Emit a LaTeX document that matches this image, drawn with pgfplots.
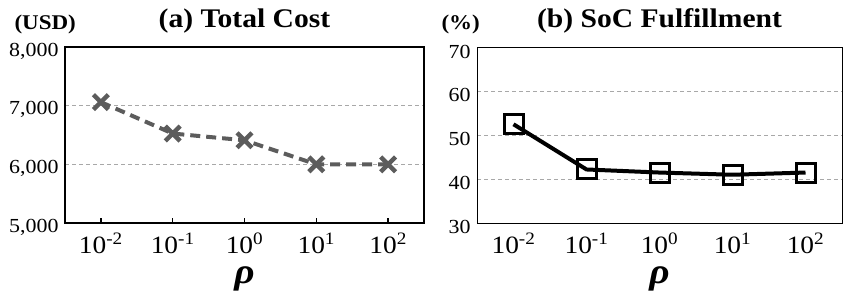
\documentclass[border=0pt]{standalone}
\usepackage{fontspec}
\setmainfont{Liberation Serif}[FakeStretch=1.1]
\usepackage{pgfplots}
\pgfplotsset{compat=1.18}
\definecolor{costgray}{HTML}{5C5C5C}
\definecolor{gridgray}{HTML}{A8A8A8}
\pgfplotsset{
  common/.style={
    scale only axis,
    xmin=-0.5, xmax=4.5,
    xtick={0,1,2,3,4},
    xticklabels={10\textsuperscript{-2},10\textsuperscript{-1},10\textsuperscript{0},10\textsuperscript{1},10\textsuperscript{2}},
    xticklabel style={font=\fontsize{25}{27}\selectfont, anchor=base, yshift=-30bp},
    yticklabel style={font=\fontsize{20}{22}\selectfont, anchor=east, yshift=-4bp, xshift=-3bp},
    /pgf/number format/.cd, 1000 sep={,}, assume math mode=true, /pgfplots/.cd,
    ymajorgrids,
    grid style={gridgray, dash pattern=on 4bp off 3bp, line width=0.8bp},
    title style={font=\bfseries\fontsize{27}{29}\selectfont, at={(0.5,1)}, anchor=base, yshift=14bp},
    xlabel style={font=\bfseries\itshape\fontsize{36}{38}\selectfont, at={(0.5,0)}, anchor=base, yshift=-60bp},
    xlabel={ρ},
    major y tick style={draw=none},
  }
}
\begin{document}
\begin{tikzpicture}[x=1bp,y=1bp]
\useasboundingbox (0,0) rectangle (848,297);
\begin{axis}[common,
  at={(65bp,74bp)}, anchor=south west,
  width=359bp, height=176bp,
  ymin=5000, ymax=8000, ytick={5000,6000,7000,8000},
  title={(a) Total Cost},
  axis line style={line width=1.4bp},
  major x tick style={black, line width=1.4bp},
  tick align=inside, xtick pos=bottom, major tick length=5bp,
]
\addplot[costgray, line width=4bp, dash pattern=on 10bp off 6bp,
  mark=x, mark size=10.5bp, mark options={solid, line width=4.5bp}]
  coordinates {(0,7060) (1,6525) (2,6410) (3,6000) (4,6000)};
\end{axis}
\begin{axis}[common,
  at={(477bp,74bp)}, anchor=south west,
  width=365bp, height=175.5bp,
  ymin=30, ymax=70, ytick={30,40,50,60,70},
  title={(b) SoC Fulfillment},
  axis line style={line width=1bp},
  major x tick style={draw=none},
]
\addplot[black, line width=4bp,
  mark=square, mark size=9.5bp, mark options={solid, line width=3bp, fill=none}]
  coordinates {(0,52.5) (1,42.2) (2,41.5) (3,41.0) (4,41.5)};
\end{axis}
\node[anchor=base west, font=\bfseries\fontsize{21}{23}\selectfont] at (11,268) {(USD)};
\node[anchor=base west, font=\bfseries\fontsize{21}{23}\selectfont] at (438,268) {(\%)};
\end{tikzpicture}
\end{document}
